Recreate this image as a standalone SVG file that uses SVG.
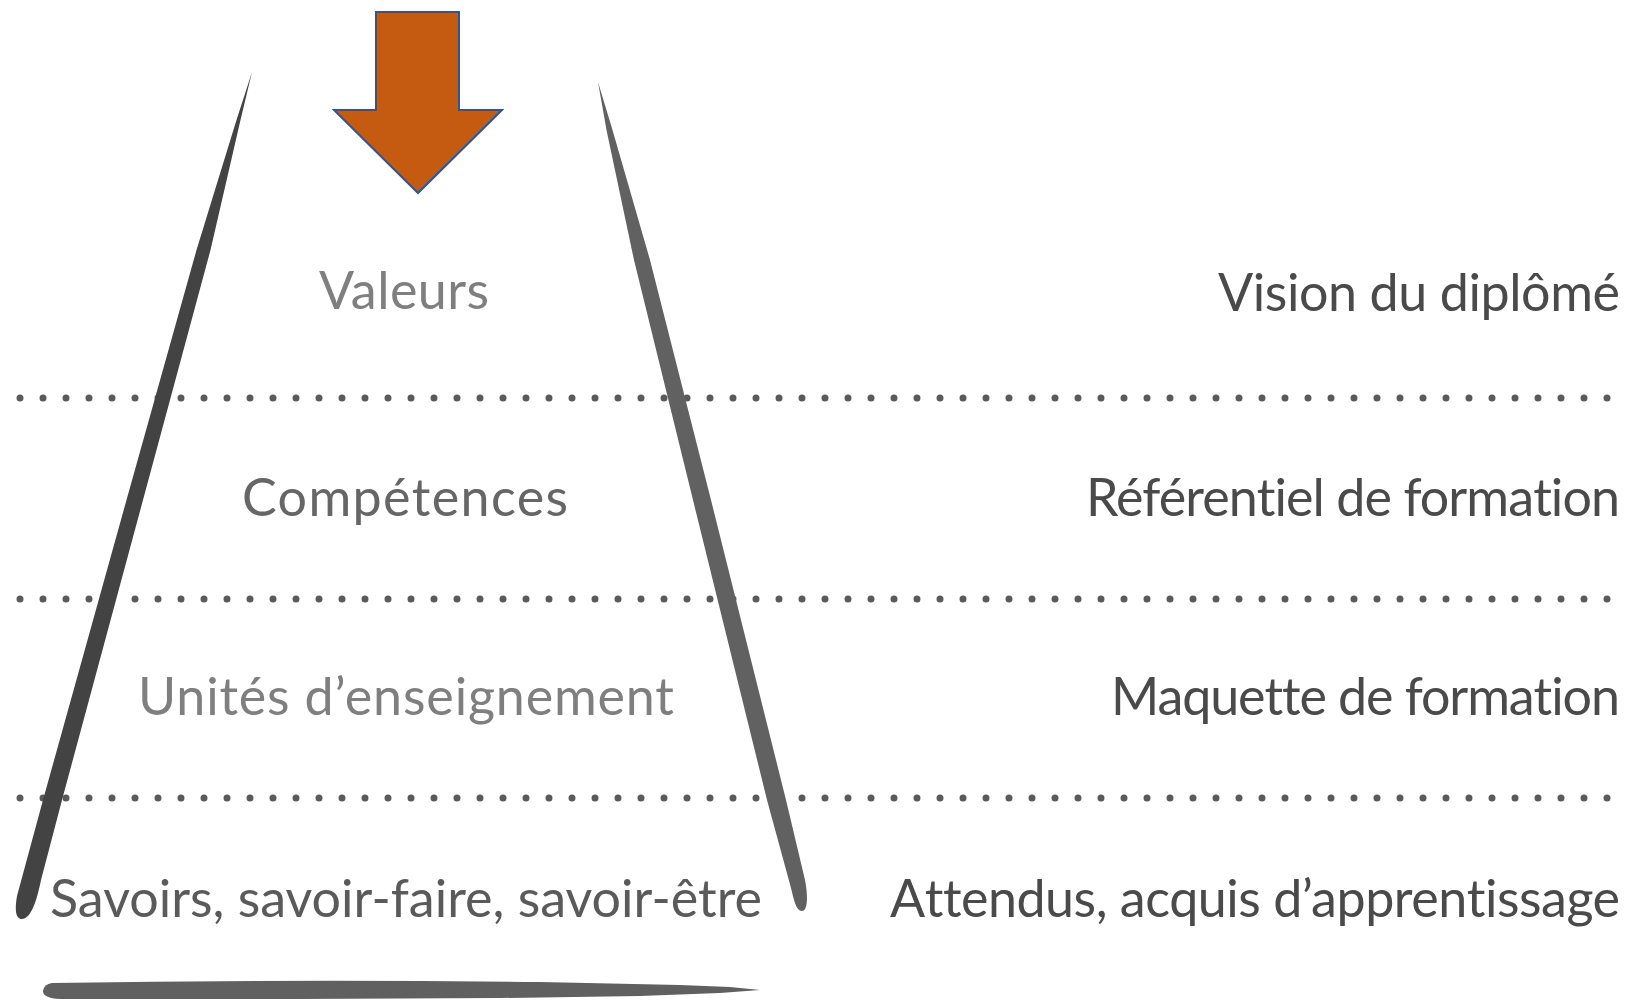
<svg xmlns="http://www.w3.org/2000/svg" width="1630" height="1000" viewBox="0 0 1630 1000">
  <style>
    .lbl { font-family: "Lato", "Open Sans", "Liberation Sans", sans-serif; font-size: 52px; font-variant-ligatures: none; font-feature-settings: "liga" 0, "clig" 0, "dlig" 0; }
    .nb { font-size: 52.05px; }
    .left { fill: #7f7f7f; }
    .left-dark { fill: #666666; }
    .left-darker { fill: #5a5a5a; }
    .right { fill: #4a4a4a; }
    .dots { stroke: #5a5a5a; stroke-width: 7; stroke-linecap: round; stroke-dasharray: 0 23; fill: none; }
  </style>
  <rect width="1630" height="1000" fill="#ffffff"/>

  <g id="separators">
    <line class="dots" x1="20" y1="398" x2="1612" y2="398"/>
    <line class="dots" x1="20" y1="599" x2="1612" y2="599"/>
    <line class="dots" x1="20" y1="798" x2="1612" y2="798"/>
  </g>

  <g id="pyramid">
    <path id="left-edge" fill="#434343" d="M252,72 L240.5,120 L210.5,250 L143,500 L62,800 L41,880 C37,900 31,920 21,919 C15,918 15,908 17,896 L43,800 L126.5,500 L196.5,250 L236.5,120 Z"/>
    <path id="right-edge" fill="#616161" d="M598,82 L612.5,130 L650,260 L711,500 L786,800 L805,880 C808,895 808,911 802,911 C796,911 794,900 791,888 L767,800 L693,500 L634,260 L606.5,130 Z"/>
    <path id="base" fill="#606060" d="M52,983 Q300,979 540,982 L680,985 L730,987 L760,990 L720,993 L640,996 L500,998 L300,999 L60,999 Q43,998 43,991 Q44,984 52,983 Z"/>
  </g>

  <g id="arrow">
    <path d="M376,12 L459,12 L459,110 L502,110 L418,193 L334,110 L376,110 Z" fill="#C55A11" stroke="#2F5597" stroke-width="2" stroke-linejoin="miter"/>
  </g>

  <g id="layer-valeurs">
    <text class="lbl left" x="319" y="309" textLength="170">Valeurs</text>
  </g>
  <g id="layer-competences">
    <text class="lbl left-dark" x="242" y="516" textLength="326">Compétences</text>
  </g>
  <g id="layer-unites">
    <text class="lbl left" x="138" y="715" textLength="536">Unités d’enseignement</text>
  </g>
  <g id="layer-savoirs">
    <text class="lbl left-darker" x="50" y="917" textLength="712">Savoirs, savoir-faire, savoir-être</text>
  </g>

  <g id="label-vision">
    <text class="lbl right" x="1218" y="311" textLength="402">Vision du diplômé</text>
  </g>
  <g id="label-referentiel">
    <text class="lbl right" x="1086" y="516" textLength="534">Référen<tspan class="nb">t</tspan>iel de forma<tspan class="nb">t</tspan>ion</text>
  </g>
  <g id="label-maquette">
    <text class="lbl right" x="1111" y="715" textLength="509">Maque<tspan class="nb">t</tspan>te de forma<tspan class="nb">t</tspan>ion</text>
  </g>
  <g id="label-attendus">
    <text class="lbl right" x="890" y="917" textLength="730">A<tspan class="nb">t</tspan>tendus, acquis d’appren<tspan class="nb">t</tspan>issage</text>
  </g>
</svg>
